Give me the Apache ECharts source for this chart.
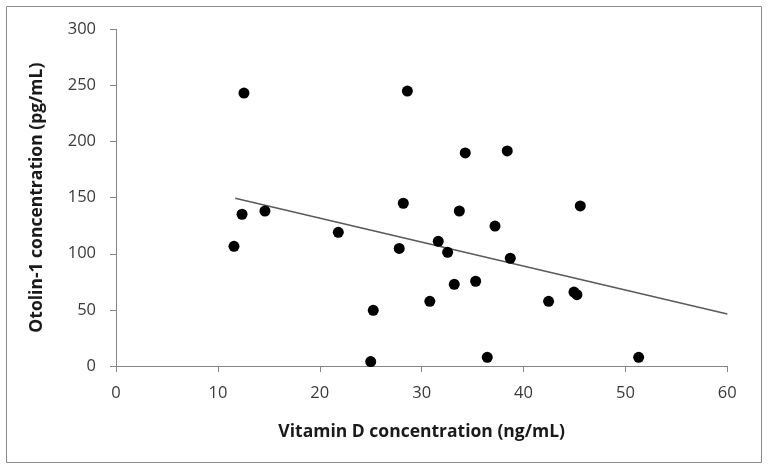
<!DOCTYPE html>
<html><head><meta charset="utf-8">
<script src="https://cdn.jsdelivr.net/npm/echarts@6/dist/echarts.min.js"></script>
<style>html,body{margin:0;padding:0;background:#fff}#c{width:768px;height:469px}</style>
</head><body><div id="c"></div>
<script>
const vitaminD = [12.56,28.6,28.2,34.28,38.4,33.7,45.57,12.37,14.62,11.58,21.82,27.8,25.25,30.8,25.0,37.2,31.63,32.55,38.7,33.2,35.3,42.46,44.95,45.24,36.44,51.3];
const otolin1 = [243.2,245,145,189.8,191.6,138.1,142.6,135.2,138.1,106.6,119.1,104.8,49.6,57.6,3.9,124.7,111.1,101.3,96,72.8,75.5,57.6,65.9,63.5,7.7,7.7];
const trendX = [11.7, 60];
const trendY = [149.4, 46.3];
const xTicks = [0,10,20,30,40,50,60];
const yTicks = [0,50,100,150,200,250,300];

const font = '"Open Sans", sans-serif';
const chart = echarts.init(document.getElementById('c'), null, {renderer:'canvas'});
chart.setOption({
  animation:false,
  backgroundColor:'#fff',
  graphic:[{type:'rect',shape:{x:6.5,y:6.5,width:755,height:456},style:{fill:'none',stroke:'#8c8c8c',lineWidth:1},silent:true}],
  grid:{left:116,right:40.7,top:29.3,bottom:103},
  xAxis:{type:'value',min:xTicks[0],max:xTicks[xTicks.length-1],interval:10,
    name:'Vitamin D concentration (ng/mL)',nameLocation:'middle',nameGap:57,
    nameTextStyle:{fontFamily:font,fontSize:17.5,fontWeight:'bold',color:'#1a1a1a'},
    axisLine:{lineStyle:{color:'#868686',width:1}},
    axisTick:{show:true,inside:false,length:6,lineStyle:{color:'#868686'}},
    axisLabel:{fontFamily:font,fontSize:16.5,color:'#3a3a3a',margin:19},
    splitLine:{show:false}},
  yAxis:{type:'value',min:yTicks[0],max:yTicks[yTicks.length-1],interval:50,
    name:'Otolin-1 concentration (pg/mL)',nameLocation:'middle',nameGap:70,nameRotate:90,
    nameTextStyle:{fontFamily:font,fontSize:17.5,fontWeight:'bold',color:'#1a1a1a'},
    axisLine:{show:true,lineStyle:{color:'#868686',width:1}},
    axisTick:{show:true,inside:false,length:6,lineStyle:{color:'#868686'}},
    axisLabel:{fontFamily:font,fontSize:16.5,color:'#3a3a3a',margin:20},
    splitLine:{show:false}},
  series:[
    {type:'line',data:trendX.map((x,i)=>[x,trendY[i]]),symbol:'none',
     lineStyle:{color:'#595959',width:1.5},z:1},
    {type:'scatter',data:vitaminD.map((x,i)=>[x,otolin1[i]]),symbol:'circle',symbolSize:11,
     itemStyle:{color:'#000',opacity:1},z:2}
  ]
});
</script></body></html>
